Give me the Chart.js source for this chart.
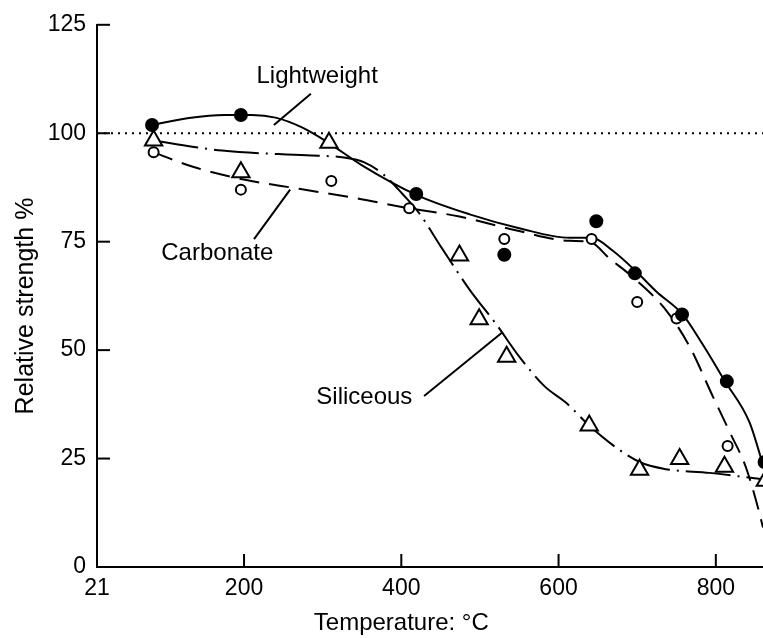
<!DOCTYPE html>
<html lang="en">
  <head>
    <meta charset="UTF-8" />
    <title>Relative strength vs temperature</title>
    <script src="https://cdn.jsdelivr.net/npm/chart.js"></script>
    <style>
      body { margin: 0; background: #fff; }
      #wrap { width: 763px; height: 638px; }
    </style>
  </head>
  <body>
    <div id="wrap"><canvas id="myChart" width="763" height="638"></canvas></div>
    <script>
      // measured points
      var lightweightTemp = [83, 196, 419, 531, 648, 697, 757, 814, 862];
      var lightweightStrength = [101.9, 104.2, 86.0, 72.0, 79.7, 67.7, 58.2, 42.8, 24.2];
      var carbonateTemp = [85, 196, 311, 410, 531, 642, 700, 750, 815];
      var carbonateStrength = [95.6, 87.0, 89.0, 82.7, 75.6, 75.6, 61.1, 57.3, 27.9];
      var siliceousTemp = [85, 196, 308, 474, 499, 534, 639, 703, 754, 811, 863];
      var siliceousStrength = [98.3, 91.0, 97.8, 71.8, 57.1, 48.5, 32.6, 22.4, 24.9, 23.1, 19.9];

      // hand drawn trend curves
      var lightweightCurveTemp = [83, 130, 175, 210, 240, 273, 304, 350, 419, 487, 550, 614, 642, 669, 700, 725, 758, 783, 811, 843, 859, 875];
      var lightweightCurve = [101.9, 103.5, 104.2, 104.2, 103.6, 101.4, 98.2, 92.6, 85.8, 81.3, 78.1, 75.9, 75.9, 72.9, 67.9, 63.4, 58.2, 51.4, 43.0, 33.3, 24.2, 15];
      var carbonateCurveTemp = [85, 136, 203, 270, 346, 410, 474, 544, 614, 639, 665, 699, 738, 767, 796, 818, 839, 860, 869];
      var carbonateCurve = [95.6, 92.2, 89.2, 87.2, 84.9, 82.7, 80.8, 77.7, 75.2, 75.0, 71.1, 66.1, 58.9, 50.7, 39.4, 31.0, 22.6, 9.1, 1.6];
      var siliceousCurveTemp = [85, 172, 279, 327, 353, 378, 401, 423, 452, 487, 521, 550, 582, 610, 639, 669, 703, 735, 792, 860];
      var siliceousCurve = [98.3, 96.0, 94.9, 94.4, 93.3, 90.4, 86.1, 81.5, 73.4, 63.9, 55.9, 48.5, 41.7, 37.8, 32.6, 28.1, 24.2, 22.6, 21.7, 20.2];

      var refTemp = [13, 860];
      var refStrength = [100, 100];

      var xMin = 13, xMax = 860;
      var xTickValues = [13, 200, 400, 600, 800];
      var xTickLabels = ["21", "200", "400", "600", "800"];
      var yTickValues = [0, 25, 50, 75, 100, 125];

      var labelNotes = [
        { text: "Lightweight", at: [293, 113], from: [285, 109.1], to: [238, 101.9] },
        { text: "Carbonate", at: [166, 72.2], from: [212.7, 75.6], to: [258.6, 87] },
        { text: "Siliceous", at: [353, 39], from: [429, 39.4], to: [528.7, 54.1] }
      ];

      var FONT = "'Liberation Sans', Arial, Helvetica, sans-serif";

      function pairs(xs, ys) {
        return xs.map(function (x, i) { return { x: x, y: ys[i] }; });
      }

      function curve(label, xs, ys, dash) {
        return {
          label: label,
          data: pairs(xs, ys),
          borderColor: "#000",
          borderWidth: 2,
          borderDash: dash,
          pointRadius: 0,
          showLine: true,
          fill: false,
          cubicInterpolationMode: "monotone",
          order: 2
        };
      }

      function marks(label, xs, ys, style, radius, fillColor) {
        return {
          label: label,
          data: pairs(xs, ys),
          showLine: false,
          pointStyle: style,
          pointRadius: radius,
          pointBorderWidth: 2,
          pointBorderColor: "#000",
          pointBackgroundColor: fillColor,
          clip: false,
          order: 0
        };
      }

      var notesPlugin = {
        id: "notes",
        afterDraw: function (chart) {
          var ctx = chart.ctx, xs = chart.scales.x, ys = chart.scales.y;
          ctx.save();
          ctx.strokeStyle = "#000";
          ctx.fillStyle = "#000";
          ctx.lineWidth = 2;

          // inward tick marks
          yTickValues.forEach(function (v) {
            if (v === 0) return;
            var py = ys.getPixelForValue(v);
            ctx.beginPath();
            ctx.moveTo(xs.left, py);
            ctx.lineTo(xs.left + 13, py);
            ctx.stroke();
          });
          xTickValues.forEach(function (v) {
            if (v === xMin) return;
            var px = xs.getPixelForValue(v);
            ctx.beginPath();
            ctx.moveTo(px, ys.bottom);
            ctx.lineTo(px, ys.bottom - 13);
            ctx.stroke();
          });

          // curve labels with leader lines
          ctx.font = "24px " + FONT;
          ctx.textAlign = "center";
          ctx.textBaseline = "middle";
          labelNotes.forEach(function (n) {
            ctx.fillText(n.text, xs.getPixelForValue(n.at[0]), ys.getPixelForValue(n.at[1]));
            ctx.beginPath();
            ctx.moveTo(xs.getPixelForValue(n.from[0]), ys.getPixelForValue(n.from[1]));
            ctx.lineTo(xs.getPixelForValue(n.to[0]), ys.getPixelForValue(n.to[1]));
            ctx.stroke();
          });

          // axis titles
          ctx.textBaseline = "alphabetic";
          ctx.fillText("Temperature: \u00B0C", xs.getPixelForValue(400), 630);
          ctx.font = "25px " + FONT;
          ctx.translate(33, 306);
          ctx.rotate(-Math.PI / 2);
          ctx.fillText("Relative strength %", 0, 0);
          ctx.restore();
        }
      };

      var ctx = document.getElementById("myChart").getContext("2d");
      var myChart = new Chart(ctx, {
        type: "scatter",
        data: {
          datasets: [
            marks("Lightweight points", lightweightTemp, lightweightStrength, "circle", 6, "#000"),
            marks("Carbonate points", carbonateTemp, carbonateStrength, "circle", 5, "#fff"),
            marks("Siliceous points", siliceousTemp, siliceousStrength, "triangle", 10, "#fff"),
            curve("Lightweight", lightweightCurveTemp, lightweightCurve, []),
            curve("Carbonate", carbonateCurveTemp, carbonateCurve, [20, 10]),
            curve("Siliceous", siliceousCurveTemp, siliceousCurve, [45, 7, 2, 7]),
            {
              label: "100%",
              data: pairs(refTemp, refStrength),
              showLine: true,
              borderColor: "#000",
              borderWidth: 2,
              borderDash: [2, 5],
              pointRadius: 0,
              order: 3
            }
          ]
        },
        options: {
          responsive: false,
          animation: false,
          layout: { autoPadding: false, padding: { top: 15, left: 0, right: 0, bottom: 0 } },
          plugins: {
            legend: { display: false },
            tooltip: { enabled: false }
          },
          scales: {
            x: {
              type: "linear",
              min: xMin,
              max: xMax,
              grid: { display: false, drawTicks: false },
              border: { display: true, color: "#000", width: 2 },
              afterBuildTicks: function (scale) {
                scale.ticks = xTickValues.map(function (v) { return { value: v }; });
              },
              afterFit: function (scale) { scale.height = 71; },
              ticks: {
                color: "#000",
                padding: 8,
                maxRotation: 0,
                font: { family: FONT, size: 23 },
                callback: function (v, i) { return xTickLabels[i]; }
              }
            },
            y: {
              min: 0,
              max: 125,
              grid: { display: false, drawTicks: false },
              border: { display: true, color: "#000", width: 2 },
              afterBuildTicks: function (scale) {
                scale.ticks = yTickValues.map(function (v) { return { value: v }; });
              },
              afterFit: function (scale) { scale.width = 97; },
              ticks: {
                color: "#000",
                padding: 11,
                font: { family: FONT, size: 23 }
              }
            }
          }
        },
        plugins: [notesPlugin]
      });
    </script>
  </body>
</html>
